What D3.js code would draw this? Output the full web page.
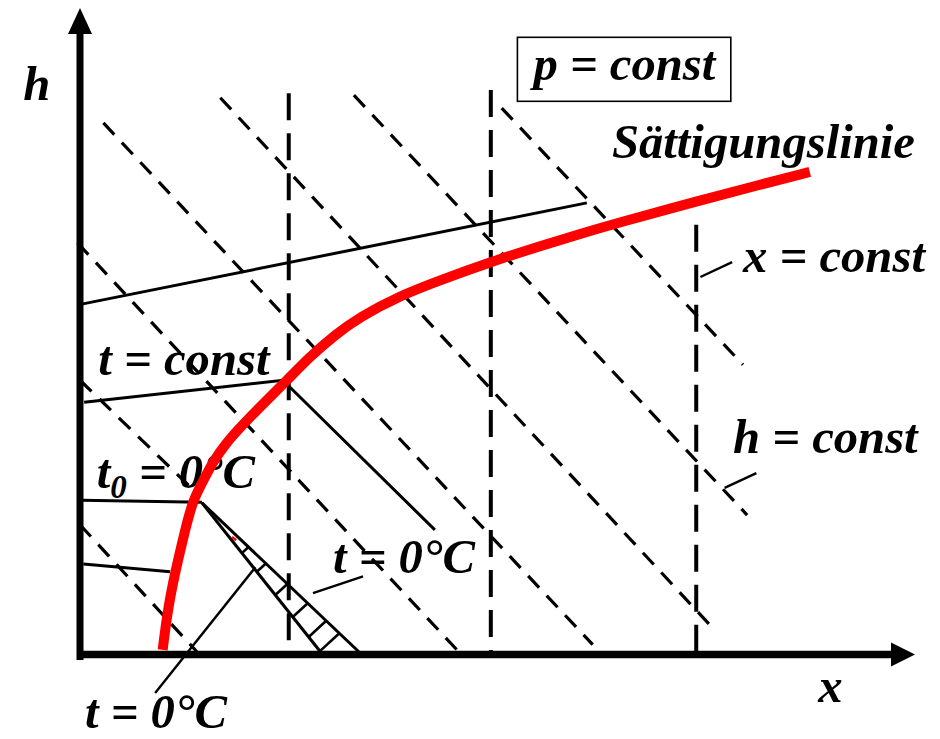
<!DOCTYPE html>
<html>
<head>
<meta charset="utf-8">
<script src="https://cdn.jsdelivr.net/npm/d3@7"></script>
<style>
  html, body { margin: 0; padding: 0; background: #fff; }
  svg { display: block; }
  text { font-family: "Liberation Serif", "Times New Roman", serif; font-weight: bold; font-style: italic; fill: #000; }
</style>
</head>
<body>
<svg id="chart" width="940" height="739"></svg>
<script>
// Schematic h,x diagram of humid air (p = const), relative units 0..100 on both axes.

// Saturation line (x, h)
const saturationLine = [
  [9.9, 0.8], [10.5, 7.0], [11.4, 12.9], [12.6, 19.4], [13.5, 24.0], [15.0, 27.6],
  [15.9, 29.9], [17.4, 32.7], [19.2, 35.3], [21.2, 38.0], [24.8, 42.6], [27.5, 46.2],
  [30.5, 49.6], [33.5, 52.4], [38.3, 55.7], [43.1, 58.1], [49.1, 60.9], [55.1, 63.4],
  [59.9, 65.3], [64.7, 67.1], [74.3, 70.5], [81.4, 72.9], [87.4, 74.9]
];

// Lines of constant enthalpy (start, end)
const isenthalps = [
  [[2.8, 82.5], [61.4, 1.6]],
  [[16.8, 86.4], [76.2, 3.6]],
  [[32.8, 86.8], [79.9, 21.7]],
  [[50.5, 84.8], [79.4, 45.0]],
  [[-0.3, 63.9], [45.5, 0.3]],
  [[0.0, 42.6], [13.8, 25.3]],
  [[0.0, 20.2], [14.0, 0.5]]
];

// Lines of constant water content: x position and upper end
const moistureX = [25.0, 49.2, 73.8];
const moistureTop = [87.1, 87.6, 66.7];

// Isotherms (polylines, kinked at the saturation line)
const isotherms = [
  [[0.2, 54.4], [60.7, 70.1]],
  [[0.5, 39.2], [24.3, 42.6], [42.5, 19.4]],
  [[0.2, 24.0], [14.6, 23.7]],
  [[0.4, 14.1], [10.8, 12.9]]
];

// Ice fog wedge at t = 0 °C: apex, inner and outer foot
const wedgeApex = [14.6, 23.6];
const wedgeInner = [29.1, 0.0];
const wedgeOuter = [33.8, 0.0];
// h values on the inner edge where the hatching starts
const hatchLevels = [15.8, 12.9, 9.3, 5.9, 2.8, 0.6];

// Leader lines from labels to curves
const leaders = [
  [[9.0, -5.9], [21.0, 13.6]],
  [[27.9, 9.6], [33.9, 12.2]],
  [[74.3, 58.6], [78.1, 60.9]],
  [[77.2, 25.9], [81.0, 28.2]]
];

// Small red stroke inside the wedge
const redTick = [[18.2, 18.3], [18.7, 17.8]];

// Label texts and their anchors (data units, baseline-left)
const labels = [
  { text: "h", x: -6.8, h: 86.0 },
  { text: "Sättigungslinie", x: 63.7, h: 77.1 },
  { text: "x = const", x: 79.4, h: 59.4 },
  { text: "h = const", x: 78.2, h: 31.3 },
  { text: "t = const", x: 2.2, h: 43.4 },
  { text: "t = 0°C", x: 30.3, h: 12.7 },
  { text: "t = 0°C", x: 0.6, h: -11.3 },
  { text: "x", x: 88.4, h: -7.3 }
];
const boxedLabel = { text: "p = const", x: 54.3, h: 89.1 };
const subLabel = { main: "t", sub: "0", rest: " = 0°C", x: 2.0, h: 25.9 };

const svg = d3.select("#chart");
const X = d3.scaleLinear().domain([0, 100]).range([80, 915]);
const H = d3.scaleLinear().domain([0, 100]).range([655, 10]);
const line = d3.line().x(d => X(d[0])).y(d => H(d[1]));
const FS = 48.7;

// ---- labels (drawn first so the line work sits on top) ----
const gText = svg.append("g");
labels.forEach(l => {
  gText.append("text").attr("x", X(l.x)).attr("y", H(l.h))
    .attr("font-size", FS).text(l.text);
});
const t0 = gText.append("text").attr("x", X(subLabel.x)).attr("y", H(subLabel.h)).attr("font-size", FS);
t0.append("tspan").text(subLabel.main);
t0.append("tspan").attr("font-size", 33).attr("dy", 10).text(subLabel.sub);
t0.append("tspan").attr("dy", -10).text(subLabel.rest);

const pText = gText.append("text").attr("x", X(boxedLabel.x)).attr("y", H(boxedLabel.h))
  .attr("font-size", FS).text(boxedLabel.text);
const bb = pText.node().getBBox();
gText.append("rect")
  .attr("x", bb.x - 12).attr("y", bb.y)
  .attr("width", bb.width + 26).attr("height", bb.height + 10)
  .attr("fill", "none").attr("stroke", "#000").attr("stroke-width", 1.6);

// ---- x = const (long dashes) ----
svg.append("g").selectAll("line").data(moistureX).join("line")
  .attr("x1", d => X(d)).attr("x2", d => X(d))
  .attr("y1", (d, i) => H(moistureTop[i])).attr("y2", H(0))
  .attr("stroke", "#000").attr("stroke-width", 4).attr("stroke-dasharray", "27,13");

// ---- h = const (short dashes) ----
svg.append("g").selectAll("path").data(isenthalps).join("path")
  .attr("d", line).attr("fill", "none")
  .attr("stroke", "#000").attr("stroke-width", 3.2).attr("stroke-dasharray", "16,11");

// ---- isotherms ----
svg.append("g").selectAll("path").data(isotherms).join("path")
  .attr("d", line).attr("fill", "none")
  .attr("stroke", "#000").attr("stroke-width", 3);

// ---- ice fog wedge with hatching ----
const gW = svg.append("g").attr("stroke", "#000").attr("fill", "none");
gW.append("path").attr("d", line([wedgeApex, wedgeInner])).attr("stroke-width", 3);
gW.append("path").attr("d", line([wedgeApex, wedgeOuter])).attr("stroke-width", 3);
{
  const A = [X(wedgeApex[0]), H(wedgeApex[1])];
  const I = [X(wedgeInner[0]), H(wedgeInner[1])];
  const O = [X(wedgeOuter[0]), H(wedgeOuter[1])];
  const norm = v => { const l = Math.hypot(v[0], v[1]); return [v[0] / l, v[1] / l]; };
  const di = norm([I[0] - A[0], I[1] - A[1]]);
  const dO = norm([O[0] - A[0], O[1] - A[1]]);
  const bis = norm([di[0] + dO[0], di[1] + dO[1]]);
  const n = [bis[1], -bis[0]];
  const e = [O[0] - A[0], O[1] - A[1]];
  hatchLevels.forEach(hv => {
    const py = H(hv);
    const t = (py - A[1]) / (I[1] - A[1]);
    const P = [A[0] + t * (I[0] - A[0]), py];
    // P + s n = A + u e
    const det = n[0] * (-e[1]) - n[1] * (-e[0]);
    const rx = A[0] - P[0], ry = A[1] - P[1];
    const s = (rx * (-e[1]) - ry * (-e[0])) / det;
    gW.append("line").attr("x1", P[0]).attr("y1", P[1])
      .attr("x2", P[0] + s * n[0]).attr("y2", P[1] + s * n[1]).attr("stroke-width", 2.6);
  });
}

// ---- leader lines ----
svg.append("g").selectAll("path").data(leaders).join("path")
  .attr("d", line).attr("fill", "none").attr("stroke", "#000").attr("stroke-width", 2.4);

// ---- saturation line ----
svg.append("path").datum(saturationLine)
  .attr("d", line.curve(d3.curveBasis))
  .attr("fill", "none").attr("stroke", "#ff0000").attr("stroke-width", 10);
line.curve(d3.curveLinear);
svg.append("path").datum(redTick).attr("d", line)
  .attr("stroke", "#ff0000").attr("stroke-width", 2.5);

// ---- axes with arrow heads ----
const gA = svg.append("g");
gA.append("line").attr("x1", X(0)).attr("x2", X(0)).attr("y1", H(0) + 5).attr("y2", H(100) + 22)
  .attr("stroke", "#000").attr("stroke-width", 7);
gA.append("line").attr("x1", X(0) - 3).attr("x2", X(100) - 20).attr("y1", H(0) - 0.5).attr("y2", H(0) - 0.5)
  .attr("stroke", "#000").attr("stroke-width", 7.5);
gA.append("path")
  .attr("d", `M${X(0)},${H(100) - 2} L${X(0) - 12},${H(100) + 24} L${X(0) + 12},${H(100) + 24} Z`)
  .attr("fill", "#000");
gA.append("path")
  .attr("d", `M${X(100)},${H(0) - 0.5} L${X(100) - 24},${H(0) - 12.5} L${X(100) - 24},${H(0) + 11.5} Z`)
  .attr("fill", "#000");
</script>
</body>
</html>
